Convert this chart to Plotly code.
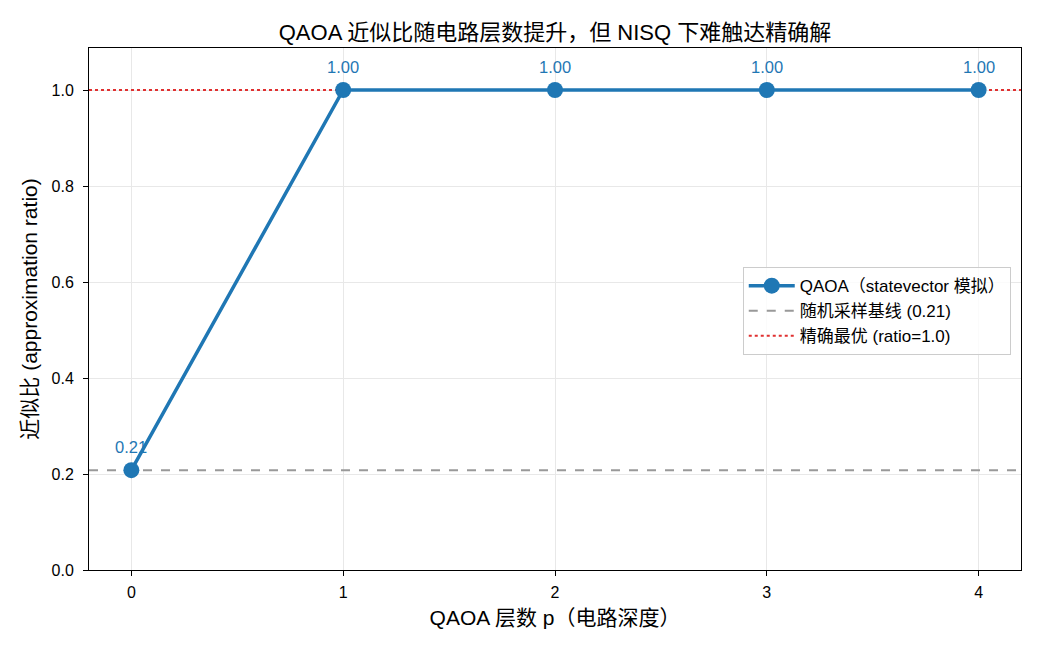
import plotly.graph_objects as go

layers = [0, 1, 2, 3, 4]
ratios = [0.208, 1.0, 1.0, 1.0, 1.0]
ratio_labels = ["0.21", "1.00", "1.00", "1.00", "1.00"]
random_baseline = 0.208
exact_optimum = 1.0
x_range = [-0.2, 4.2]
y_range = [0, 1.0875]
x_ticks = [0, 1, 2, 3, 4]
y_ticks = [0.0, 0.2, 0.4, 0.6, 0.8, 1.0]

FONT = "Liberation Sans, Arial, Noto Sans CJK SC, sans-serif"

fig = go.Figure()

fig.add_trace(go.Scatter(
    x=x_range, y=[random_baseline] * 2, mode="lines",
    line=dict(color="#999999", width=2, dash="dash"),
    name="随机采样基线 (0.21)", legendrank=2,
))
fig.add_trace(go.Scatter(
    x=x_range, y=[exact_optimum] * 2, mode="lines",
    line=dict(color="#e03030", width=2, dash="dot"),
    name="精确最优 (ratio=1.0)", legendrank=3,
))
fig.add_trace(go.Scatter(
    x=layers, y=ratios, mode="lines+markers",
    line=dict(color="#1f77b4", width=3.5),
    marker=dict(size=16, color="#1f77b4"),
    name="QAOA（statevector 模拟）", legendrank=1,
))

for x, y, t in zip(layers, ratios, ratio_labels):
    fig.add_annotation(x=x, y=y, text=t, showarrow=False, yshift=23,
                       font=dict(size=16.5, color="#1f77b4", family=FONT))

fig.update_layout(
    width=1040, height=650,
    margin=dict(l=89, r=19, t=48, b=80),
    paper_bgcolor="white", plot_bgcolor="white",
    font=dict(family=FONT, size=16, color="black"),
    title=dict(text="QAOA 近似比随电路层数提升，但 NISQ 下难触达精确解",
               xref="paper", x=0.5, xanchor="center", y=0.951, yanchor="middle",
               font=dict(size=22, color="black")),
    legend=dict(x=0.989, xanchor="right", y=0.496, yanchor="middle",
                bgcolor="rgba(255,255,255,0.8)", bordercolor="#cccccc",
                borderwidth=1, font=dict(size=17), tracegroupgap=0,
                itemwidth=46),
    showlegend=True,
)
fig.update_xaxes(
    range=x_range, tickvals=x_ticks, ticks="outside", ticklen=5,
    tickcolor="black", showline=True, linecolor="black", linewidth=1,
    mirror=True, showgrid=True, gridcolor="#e8e8e8", gridwidth=1,
    zeroline=False, tickfont=dict(size=16), ticklabelstandoff=3,
    title=dict(text="QAOA 层数 p（电路深度）", font=dict(size=21), standoff=10),
)
fig.update_yaxes(
    range=y_range, tickvals=y_ticks, tickformat=".1f", ticks="outside",
    ticklen=5, tickcolor="black", showline=True, linecolor="black",
    linewidth=1, mirror=True, showgrid=True, gridcolor="#e8e8e8",
    gridwidth=1, zeroline=False, tickfont=dict(size=16), ticklabelstandoff=6,
    title=dict(text="近似比 (approximation ratio)", font=dict(size=21), standoff=8),
)

fig.write_html("out.html")
